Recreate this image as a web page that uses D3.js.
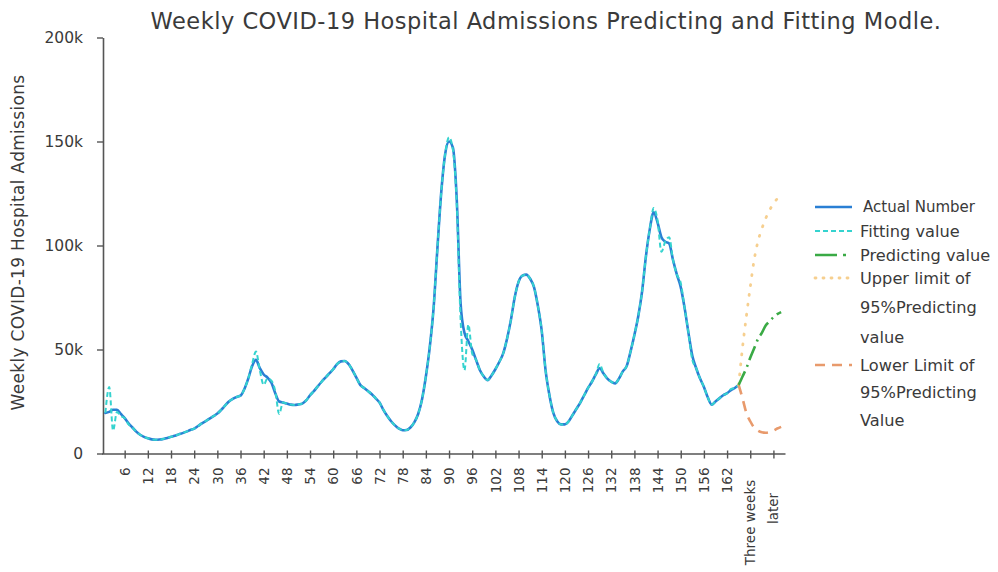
<!DOCTYPE html>
<html>
<head>
<meta charset="utf-8">
<script src="https://cdn.jsdelivr.net/npm/d3@7"></script>
<style>
  body { margin: 0; background: #fff; }
  svg text { font-family: "DejaVu Sans", "Noto Sans", sans-serif; }
</style>
</head>
<body>
<svg id="chart" width="998" height="572"></svg>
<script>
// Weekly hospital admissions, in thousands, weeks 1..165
const actualNumber = [
  19.5, 20, 21, 21, 19, 17, 14.5, 12.5, 10.5, 9,
  8, 7.3, 6.8, 6.6, 6.7, 7, 7.5, 8, 8.5, 9.2,
  9.8, 10.5, 11.3, 12, 13.2, 14.5, 15.6, 16.8, 18, 19.2,
  21, 23, 25, 26.3, 27.2, 27.8, 31, 36, 42, 45,
  41, 38, 36.5, 34, 29, 25, 24.5, 24, 23.5, 23.3,
  23.6, 24, 25.5, 28, 30, 32.3, 34.5, 36.5, 38.5, 40.5,
  43, 44.3, 44.5, 43, 40, 36.5, 33, 31.5, 30, 28.5,
  26.5, 24.5, 21, 18, 15.5, 13.5, 12, 11.2, 11.3, 12.5,
  15, 19, 26, 37, 51, 70, 99, 126, 144, 150,
  147, 122, 72, 58, 54, 50, 45, 40, 37, 35.3,
  37.5, 40.5, 44, 48, 55, 64, 75, 82.5, 85.5, 86,
  84, 80, 71, 59, 40, 28, 19.5, 15.5, 14, 14,
  15.5, 18.5, 21.5, 24.5, 28, 31.5, 34.5, 38, 41, 38.5,
  36, 34.5, 33.7, 36, 39.5, 42, 49, 57, 66, 78,
  95, 108, 116, 111, 104, 101.8, 101, 93, 86, 80,
  70, 58, 47, 41, 36, 32, 27, 23.5, 25, 26.5,
  28, 29, 30.5, 31.5, 33
];

// Fitted values from the model, weeks 1..165
const fittingValue = [
  19.5, 32, 11, 20, 18, 17, 14, 12.5, 10.5, 9,
  8, 7.3, 6.8, 6.6, 6.7, 7, 7.5, 8, 8.5, 9.2,
  9.8, 10.5, 11.3, 12, 13.2, 14.5, 15.6, 16.8, 18, 19.2,
  21, 23, 25, 26.3, 27.2, 27.8, 31, 36, 43, 49,
  40, 33, 36, 35, 30, 19, 24.5, 24, 23.5, 23.3,
  23.6, 24, 25.5, 28, 30, 32.3, 34.5, 36.5, 38.5, 40.5,
  43, 44.3, 44.5, 43, 40, 36.5, 33, 31.5, 30, 28.5,
  26.5, 24.5, 21, 18, 15.5, 13.5, 12, 11.2, 11.3, 12.5,
  15, 19, 26, 37, 51, 70, 99, 126, 144, 152,
  146, 120, 64, 40, 62, 48, 45, 40, 37, 35.3,
  37.5, 40.5, 44, 48, 55, 64, 75, 82.5, 85.5, 86,
  84, 80, 71, 59, 40, 28, 19.5, 15.5, 14, 14,
  15.5, 18.5, 21.5, 24.5, 28, 31.5, 34.5, 38, 43, 38.5,
  36, 34.5, 33.7, 36, 39.5, 42, 49, 57, 66, 78,
  95, 108, 118, 112, 97, 102, 104, 93, 86, 82,
  70, 58, 45, 41, 36, 32, 27, 23.5, 25, 26.5,
  28, 29, 31, 31.5, 33
];

// Forecast horizon (weeks 165..176), in thousands
const predictWeeks     = [165, 166, 167, 168, 169, 170, 171, 172, 173, 174, 175, 176];
const predictingValue  = [33, 37, 41, 46, 50.5, 55, 58, 61.5, 63.5, 65.5, 67, 68];
const upperLimit       = [33, 51, 66, 80, 93, 102, 108, 113, 117, 120, 122.5, 124];
const lowerLimit       = [33, 26.5, 19.5, 15.5, 12.5, 11, 10.2, 10, 10.3, 11, 12, 12.8];

const xTickValues   = [6, 12, 18, 24, 30, 36, 42, 48, 54, 60, 66, 72, 78, 84, 90, 96, 102,
                       108, 114, 120, 126, 132, 138, 144, 150, 156, 162, 168, 174];
const yTickValues   = [0, 50, 100, 150, 200];
const futureLabel   = ["Three weeks", "later"];
const legendLabels  = [
  ["Actual Number"],
  ["Fitting value"],
  ["Predicting value"],
  ["Upper limit of", "95%Predicting", "value"],
  ["Lower Limit of", "95%Predicting", "Value"]
];

const titleText  = "Weekly COVID-19 Hospital Admissions Predicting and Fitting Modle.";
const yAxisTitle = "Weekly COVID-19 Hospital Admissions";

// ---------- styles ----------
const C = {
  actual: "#2a7fd4",
  fit: "#35d3cf",
  pred: "#3aaa45",
  upper: "#f6cf8f",
  lower: "#e89a6c",
  axis: "#555",
  text: "#3a3a3a"
};
const seriesStyle = [
  { color: C.actual, width: 2.6, dash: null },
  { color: C.fit,    width: 2.0, dash: "5,3" },
  { color: C.pred,   width: 2.6, dash: "15,5,2,5" },
  { color: C.upper,  width: 2.8, dash: "1,9" },
  { color: C.lower,  width: 2.6, dash: "10,7" }
];

const svg = d3.select("#chart");

const x = d3.scaleLinear().domain([0, 177]).range([101.5, 785]);
const y = d3.scaleLinear().domain([0, 200]).range([453.5, 37.5]);

// title
svg.append("text")
  .attr("x", 546).attr("y", 29)
  .attr("text-anchor", "middle")
  .attr("font-size", 22.5)
  .attr("letter-spacing", 0.5)
  .attr("fill", C.text)
  .text(titleText);

// y axis
const yAxis = svg.append("g")
  .attr("transform", `translate(${x(0) + 1.5},0)`)
  .call(d3.axisLeft(y).tickValues(yTickValues).tickSize(6).tickSizeOuter(0)
        .tickFormat(d => d === 0 ? "0" : d + "k"));
yAxis.select(".domain").attr("stroke", C.axis).attr("stroke-width", 1.6);
yAxis.selectAll(".tick line").attr("stroke", C.axis).attr("stroke-width", 1.4);
yAxis.selectAll(".tick text").attr("font-size", 15.5).attr("fill", C.text).attr("x", -20);

svg.append("text")
  .attr("transform", `translate(24,${(75 + 410) / 2}) rotate(-90)`)
  .attr("text-anchor", "middle")
  .attr("font-size", 17)
  .attr("letter-spacing", 0.3)
  .attr("fill", C.text)
  .text(yAxisTitle);

// x axis
const xAxis = svg.append("g")
  .attr("transform", `translate(0,${y(0)})`)
  .call(d3.axisBottom(x).tickValues(xTickValues).tickSize(5).tickSizeOuter(0)
        .tickFormat(d => d <= 162 ? d : ""));
xAxis.select(".domain").attr("stroke", C.axis).attr("stroke-width", 1.6);
xAxis.selectAll(".tick line").attr("stroke", C.axis).attr("stroke-width", 1.4).attr("y1", -3);
xAxis.selectAll(".tick text")
  .attr("font-size", 13.5).attr("fill", C.text)
  .attr("transform", "rotate(-90)")
  .attr("x", -14).attr("y", 0).attr("dy", "0.35em")
  .attr("text-anchor", "end");

// two-line label for the forecast end of the axis
futureLabel.forEach((t, i) => {
  svg.append("text")
    .attr("transform", `translate(${x(168 + 6 * i)},${y(0)}) rotate(-90)`)
    .attr("x", i === 0 ? -69 : -55)
    .attr("dy", "0.35em")
    .attr("text-anchor", "middle")
    .attr("font-size", 13.5)
    .attr("fill", C.text)
    .text(t);
});

// series
const weekLine = d3.line()
  .x((d, i) => x(i + 1))
  .y(d => y(d))
  .curve(d3.curveMonotoneX);
const predLine = d3.line()
  .x((d, i) => x(predictWeeks[i]))
  .y(d => y(d))
  .curve(d3.curveMonotoneX);

function drawPath(gen, data, st) {
  const p = svg.append("path")
    .attr("d", gen(data))
    .attr("fill", "none")
    .attr("stroke", st.color)
    .attr("stroke-width", st.width)
    .attr("stroke-linejoin", "round")
    .attr("stroke-linecap", st.dash ? "butt" : "round");
  if (st.dash) p.attr("stroke-dasharray", st.dash);
  return p;
}

drawPath(weekLine, actualNumber, seriesStyle[0]);
drawPath(weekLine, fittingValue, seriesStyle[1]);
drawPath(predLine, upperLimit, seriesStyle[3]).attr("stroke-linecap", "round");
drawPath(predLine, lowerLimit, seriesStyle[4]);
drawPath(predLine, predictingValue, seriesStyle[2]);

// legend
const legendRows = [
  { y: 207, lineH: 0 },
  { y: 231, lineH: 0 },
  { y: 255, lineH: 0 },
  { y: 278, lineH: 29.5 },
  { y: 365, lineH: 27.5 }
];
legendLabels.forEach((lines, i) => {
  const row = legendRows[i];
  const st = seriesStyle[i];
  const ln = svg.append("line")
    .attr("x1", 815).attr("x2", 852)
    .attr("y1", row.y).attr("y2", row.y)
    .attr("stroke", st.color)
    .attr("stroke-width", st.width);
  if (st.dash) ln.attr("stroke-dasharray", i === 2 ? "22,6,3,6" : i === 3 ? "1,7" : st.dash);
  if (i === 3) ln.attr("stroke-linecap", "round");
  lines.forEach((t, j) => {
    svg.append("text")
      .attr("x", i === 0 ? 863 : 860)
      .attr("y", row.y + j * row.lineH)
      .attr("dy", "0.35em")
      .attr("font-size", i === 0 ? 15 : 16.2)
      .attr("fill", C.text)
      .text(t);
  });
});
</script>
</body>
</html>
